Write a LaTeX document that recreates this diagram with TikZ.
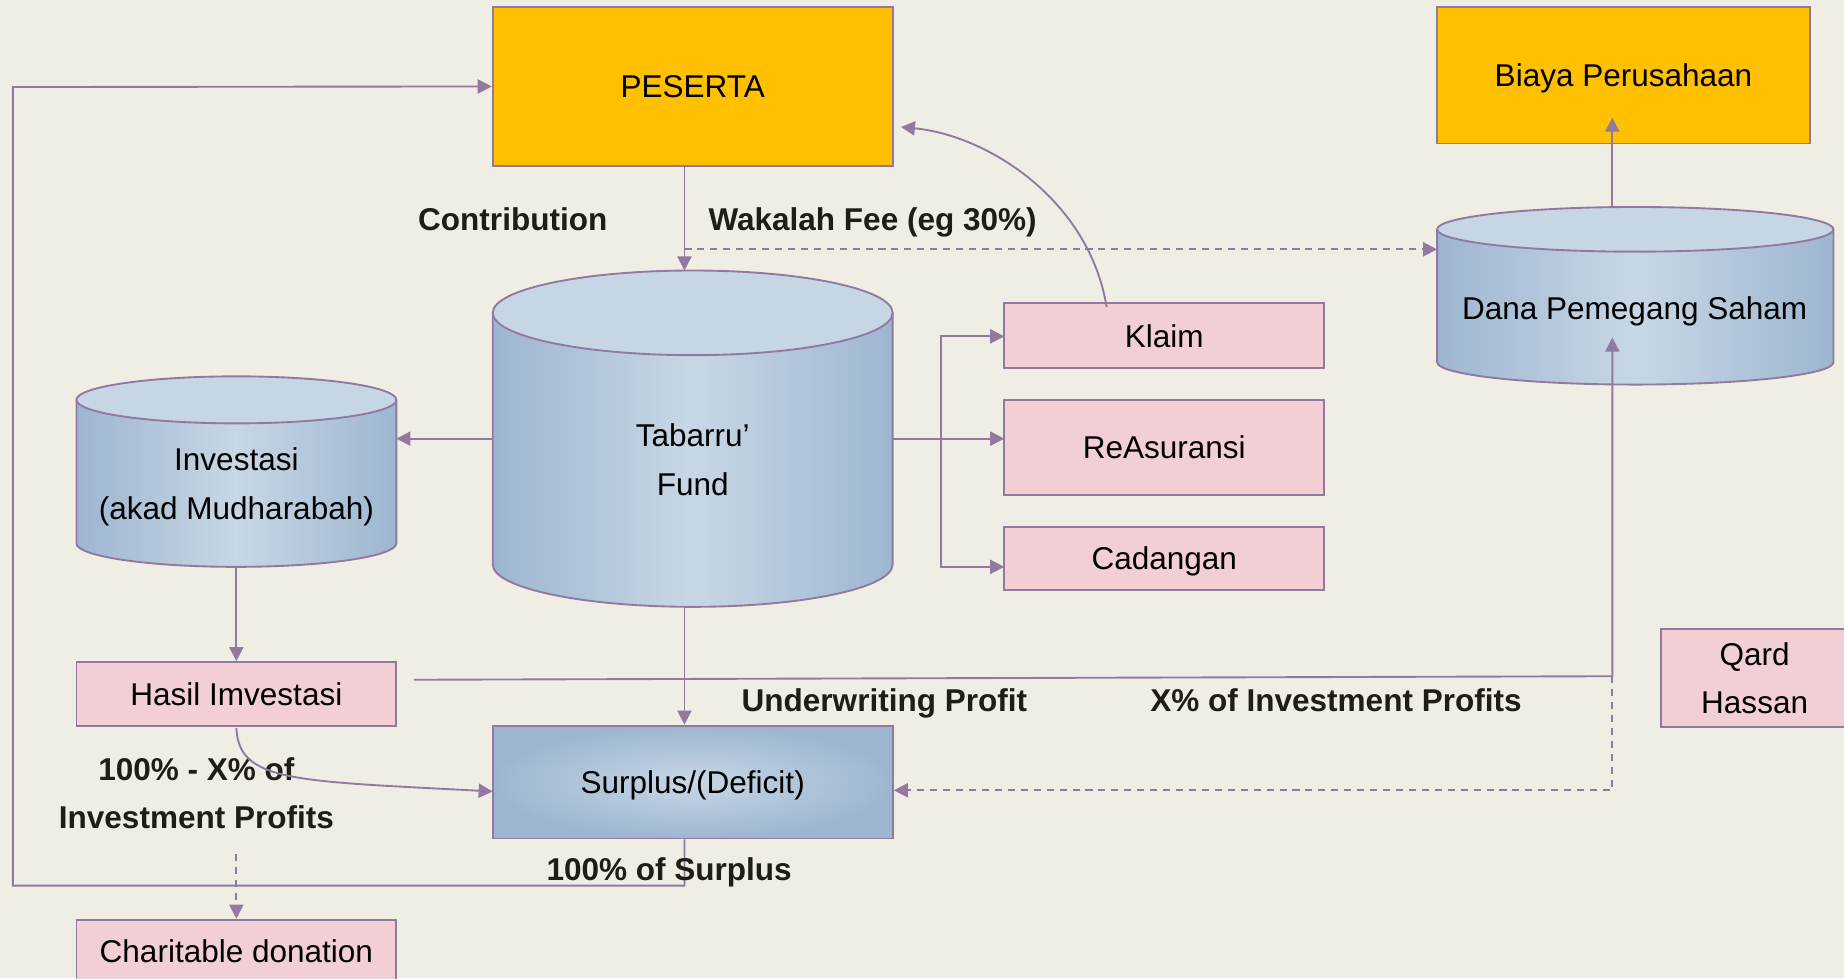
\documentclass[tikz,border=0pt]{standalone}
\usepackage{fontspec}
\setmainfont{Liberation Sans}
\usetikzlibrary{arrows.meta}
\definecolor{bg}{RGB}{240,237,229}
\definecolor{gold}{RGB}{255,192,0}
\definecolor{pinkfill}{RGB}{242,206,213}
\definecolor{edge}{RGB}{145,121,160}
\definecolor{cyldark}{RGB}{157,182,208}
\definecolor{cyllight}{RGB}{200,215,229}
\definecolor{cyltopc}{RGB}{199,214,228}
\definecolor{lbl}{RGB}{30,30,20}
\newcommand\mycyl[5]{%
  \pgfmathsetmacro\myrx{(#2-#1)/4}%
  \pgfmathsetmacro\myry{#5/2}%
  \pgfmathsetmacro\mymx{(#1+#2)/2}%
  \path[left color=cyldark, right color=cyldark, middle color=cyllight]
    (#1,#3) -- (#1,#4) arc[start angle=180,end angle=360,x radius=\myrx pt,y radius=\myry pt] -- (#2,#3) -- cycle;
  \path[fill=cyltopc] (\mymx,#3) ellipse[x radius=\myrx pt,y radius=\myry pt];
  \draw[edge, line width=0.8pt] (#1,#3) -- (#1,#4) arc[start angle=180,end angle=360,x radius=\myrx pt,y radius=\myry pt] -- (#2,#3);
  \draw[edge, line width=0.8pt] (\mymx,#3) ellipse[x radius=\myrx pt,y radius=\myry pt];
}
\begin{document}
\begin{tikzpicture}[x=0.5pt,y=-0.5pt,
  fnt/.style={font=\fontsize{13.4}{20.5}\selectfont},
  oneline/.style={text height=9.6pt, text depth=0pt},
  base/.style={fnt, draw=edge, line width=0.8pt, inner sep=0pt, align=center},
  goldbox/.style={base, oneline, fill=gold},
  pinkbox/.style={base, oneline, fill=pinkfill},
  pinkboxm/.style={base, fill=pinkfill},
  bluebox/.style={base, oneline, inner color=cyllight, outer color=cyldark},
  lab/.style={font=\fontsize{13.4}{20.5}\selectfont\bfseries, text=lbl, align=center, inner sep=0pt},
  txt/.style={fnt, align=center, inner sep=0pt},
  conn/.style={draw=edge, line width=0.8pt},
  arr/.style={conn, -{Triangle[length=6pt,width=6pt]}},
  dsh/.style={dash pattern=on 3pt off 2.5pt}
]
\useasboundingbox (0,0) rectangle (1568,832);
\clip (0,0) rectangle (1568,832);
\fill[bg] (0,0) rectangle (1568,832);

% cylinders
\mycyl{419}{759}{266}{480}{36}
\mycyl{65}{337}{340}{462}{20}
\mycyl{1222}{1559}{195}{308}{19}
\node[txt] (tab) at (589,391) {Tabarru’\\Fund};
\node[txt] (inv) at (201,414) {Investasi\\(akad Mudharabah)};
\node[txt, oneline] (dana) at (1390,262) {Dana Pemegang Saham};

% boxes
\node[goldbox, minimum width=170pt, minimum height=67.5pt] (peserta) at (589,73.5) {PESERTA};
\node[goldbox, minimum width=158.5pt, minimum height=58pt] (biaya) at (1380.5,64) {Biaya Perusahaan};
\node[pinkbox, minimum width=136pt, minimum height=27.5pt] (klaim) at (990,285.5) {Klaim};
\node[pinkbox, minimum width=136pt, minimum height=40.5pt] (reas) at (990,380.5) {ReAsuransi};
\node[pinkbox, minimum width=136pt, minimum height=27pt] (cad) at (990,475) {Cadangan};
\node[pinkbox, minimum width=136pt, minimum height=27pt] (hasil) at (201,590) {Hasil Imvestasi};
\node[bluebox, minimum width=170pt, minimum height=48pt] (surplus) at (589,665) {Surplus/(Deficit)};
\node[pinkbox, minimum width=136pt, minimum height=27pt] (charity) at (201,809) {Charitable donation};
\node[pinkboxm, minimum width=80pt, minimum height=41.5pt] (qard) at (1492,576.5) {Qard\\Hassan};

% labels
\node[lab, oneline] (lcontrib) at (436,186) {Contribution};
\node[lab, oneline] (lwakalah) at (742,186) {Wakalah Fee (eg 30\%)};
\node[lab, oneline] (lunder) at (752,595) {Underwriting Profit};
\node[lab, oneline] (lxinv) at (1136,595) {X\% of Investment Profits};
\node[lab] (lrest) at (167,674.5) {100\% - X\% of\\Investment Profits};

% coordinates
\coordinate (tabtop) at (582,230);
\coordinate (tabbot) at (582,516);
\coordinate (tableft) at (419,373);
\coordinate (tabright) at (759,373);
\coordinate (invright) at (337,373);
\coordinate (invbot) at (201,482);
\coordinate (reasin) at (854,373);
\coordinate (danaleft) at (1222,212);
\coordinate (danatop) at (1371,176);
\coordinate (danain) at (1371,287);
\coordinate (biayain) at (1371,100);
\coordinate (wk) at (582,212);
\coordinate (klstart) at (941,261);
\coordinate (pesR) at (766,108);
\coordinate (br) at (800,373);
\coordinate (klin) at (854,286);
\coordinate (cadin) at (854,482);
\coordinate (hstart) at (201,619);
\coordinate (surpl) at (419,673);
\coordinate (xs) at (352,578);
\coordinate (xc) at (1371,575);
\coordinate (xd) at (1371,672);
\coordinate (surr) at (760,672);
\coordinate (sb) at (582,753);
\coordinate (lb) at (11,753);
\coordinate (lt) at (11,74);
\coordinate (cd) at (201,726);

% connectors
\draw[arr] (peserta.south -| tabtop) -- (tabtop);
\draw[arr,dsh] (wk) -- (danaleft);
\draw[arr] (klstart) .. controls (926,170) and (840,115) .. (pesR);
\draw[arr] (tableft) -- (invright);
\draw[arr] (tabright) -- (reasin);
\draw[arr] (br) |- (klin);
\draw[arr] (br) |- (cadin);
\draw[arr] (invbot) -- (hasil.north);
\draw[arr] (tabbot) -- (surplus.north -| tabbot);
\draw[arr] (hstart) .. controls (203,665) and (250,664) .. (surpl);
\draw[arr] (xs) -- (xc) -- (danain);
\draw[arr,dsh] (xc) -- (xd) -- (surr);
\draw[arr] (surplus.south -| tabbot) -- (sb) -- (lb) -- (lt) -- (peserta.west);
\draw[arr,dsh] (cd) -- (charity.north);
\draw[arr] (danatop) -- (biayain);

\node[lab, oneline] (lsurplus) at (569,739) {100\% of Surplus};
\end{tikzpicture}
\end{document}
